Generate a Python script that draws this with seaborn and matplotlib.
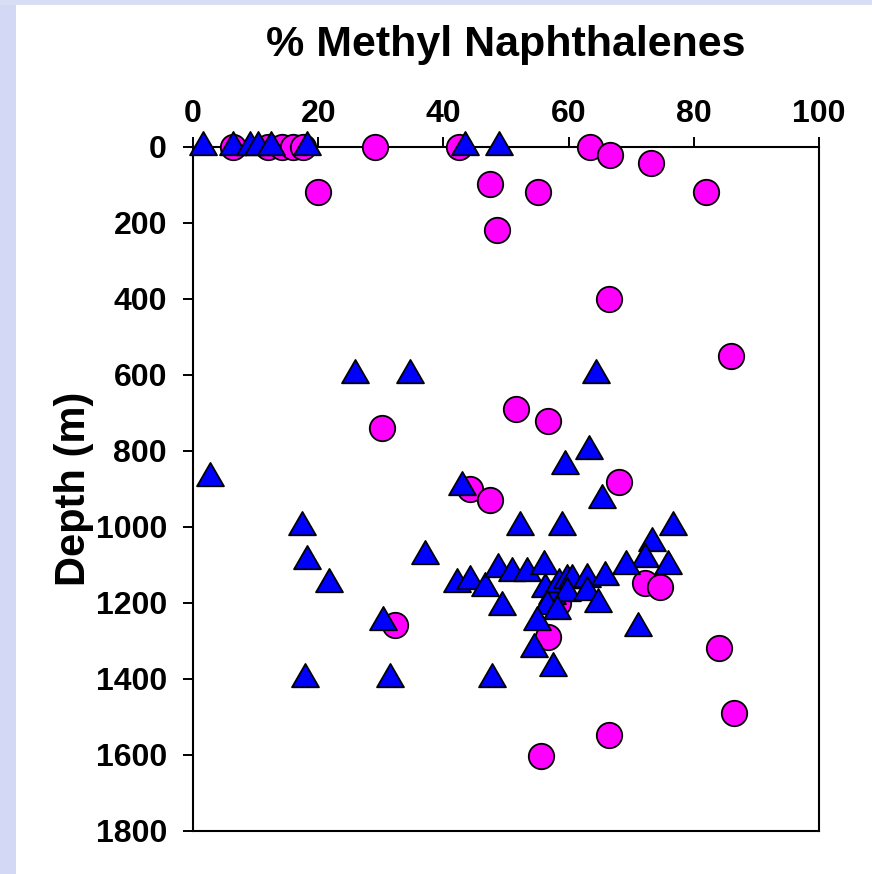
import numpy as np
import pandas as pd
import matplotlib
matplotlib.use("Agg")
import matplotlib.pyplot as plt
import seaborn as sns
from matplotlib.path import Path
from matplotlib.patches import Rectangle

# ---- data ----
circle_pct = [6.4, 12.0, 14.2, 16.0, 17.6, 29.1, 42.5, 63.4, 66.6, 73.2,
              20.0, 47.4, 55.1, 82.0, 48.6, 66.5, 86.0, 51.6, 56.7, 30.2,
              68.0, 44.3, 47.4, 58.3, 72.2, 74.6, 32.3, 56.7, 84.0, 86.4,
              66.5, 55.6]
circle_depth = [0, 0, 0, 0, 0, 0, 0, 0, 21, 42,
                118, 97, 118, 118, 218, 400, 550, 690, 720, 740,
                882, 900, 928, 1200, 1148, 1158, 1258, 1290, 1318, 1489,
                1547, 1603]

tri_pct = [1.6, 6.4, 9.1, 10.4, 12.5, 18.2, 43.5, 48.9,
           25.9, 34.7, 64.4, 63.3, 59.4, 2.7, 43.0, 65.3,
           17.4, 52.3, 58.9, 76.7, 73.4, 72.2, 69.2, 75.9,
           18.2, 37.1, 21.7, 42.1, 44.3, 46.6, 48.8, 51.0, 53.4, 56.0,
           49.4, 56.3, 57.3, 58.5, 59.7, 60.5, 59.8, 56.6, 58.1, 63.0,
           62.9, 65.8, 64.7, 54.9, 54.5, 57.5, 30.4, 71.1,
           17.9, 31.5, 47.8]
tri_depth = [0, 0, 0, 0, 0, 0, 0, 0,
             600, 600, 600, 800, 840, 870, 895, 930,
             1000, 1000, 1000, 1000, 1041, 1085, 1102, 1102,
             1090, 1076, 1150, 1150, 1141, 1161, 1111, 1121, 1121, 1103,
             1211, 1164, 1181, 1151, 1139, 1139, 1173, 1209, 1220, 1137,
             1171, 1132, 1203, 1251, 1322, 1370, 1251, 1267,
             1400, 1400, 1400]

x_ticks = [0, 20, 40, 60, 80, 100]
y_ticks = [0, 200, 400, 600, 800, 1000, 1200, 1400, 1600, 1800]

x_title = "% Methyl Naphthalenes"
y_title = "Depth (m)"

circles = pd.DataFrame({"pct": circle_pct, "depth": circle_depth})
triangles = pd.DataFrame({"pct": tri_pct, "depth": tri_depth})

# ---- style ----
sns.set_theme(style="white")
plt.rcParams['font.family'] = ['Liberation Sans', 'DejaVu Sans']
plt.rcParams['font.weight'] = 'bold'

fig = plt.figure(figsize=(8.72, 8.74), dpi=100)
fig.patch.set_facecolor('white')
fig.patches.append(Rectangle((0, 0), 16 / 872, 1, transform=fig.transFigure,
                             facecolor='#D3D8F5', edgecolor='none', zorder=0))
fig.patches.append(Rectangle((0, 1 - 5 / 874), 1, 5 / 874, transform=fig.transFigure,
                             facecolor='#D8DEF3', edgecolor='none', zorder=0))

ax = fig.add_axes([193 / 872, 1 - 831 / 874, 626 / 872, 684 / 874])
ax.set_facecolor('white')

# centroid-centred triangle marker
tri_marker = Path([(0, 1), (-0.866, -0.5), (0.866, -0.5), (0, 1)],
                  [Path.MOVETO, Path.LINETO, Path.LINETO, Path.CLOSEPOLY])

sns.scatterplot(data=circles, x="pct", y="depth", ax=ax, marker="o", s=335,
                color="#FF00FF", edgecolor="black", linewidth=1.3,
                clip_on=False, zorder=3)
sns.scatterplot(data=triangles, x="pct", y="depth", ax=ax, marker=tri_marker, s=500,
                color="#0000FF", edgecolor="black", linewidth=1.3,
                clip_on=False, zorder=4)

ax.set_xlim(0, 100)
ax.set_ylim(1800, 0)
ax.set_xticks(x_ticks)
ax.set_yticks(y_ticks)
ax.set_xticklabels([str(v) for v in x_ticks])
ax.set_yticklabels([str(v) for v in y_ticks])
ax.xaxis.tick_top()
ax.xaxis.set_label_position('top')

ax.tick_params(axis='x', top=True, bottom=False, direction='out', length=7.2,
               width=1.4, pad=6, labelsize=23, colors='black')
ax.tick_params(axis='y', left=True, right=False, direction='out', length=7.2,
               width=1.4, pad=11.5, labelsize=23, colors='black')
for lab in ax.get_xticklabels() + ax.get_yticklabels():
    lab.set_fontweight('bold')

for sp in ax.spines.values():
    sp.set_visible(True)
    sp.set_color('black')
    sp.set_linewidth(1.5)

ax.set_xlabel(x_title, fontsize=31, fontweight='bold', labelpad=31, color='black')
ax.set_ylabel(y_title, fontsize=30, fontweight='bold', labelpad=1, color='black')

fig.savefig('out.png', dpi=100)
